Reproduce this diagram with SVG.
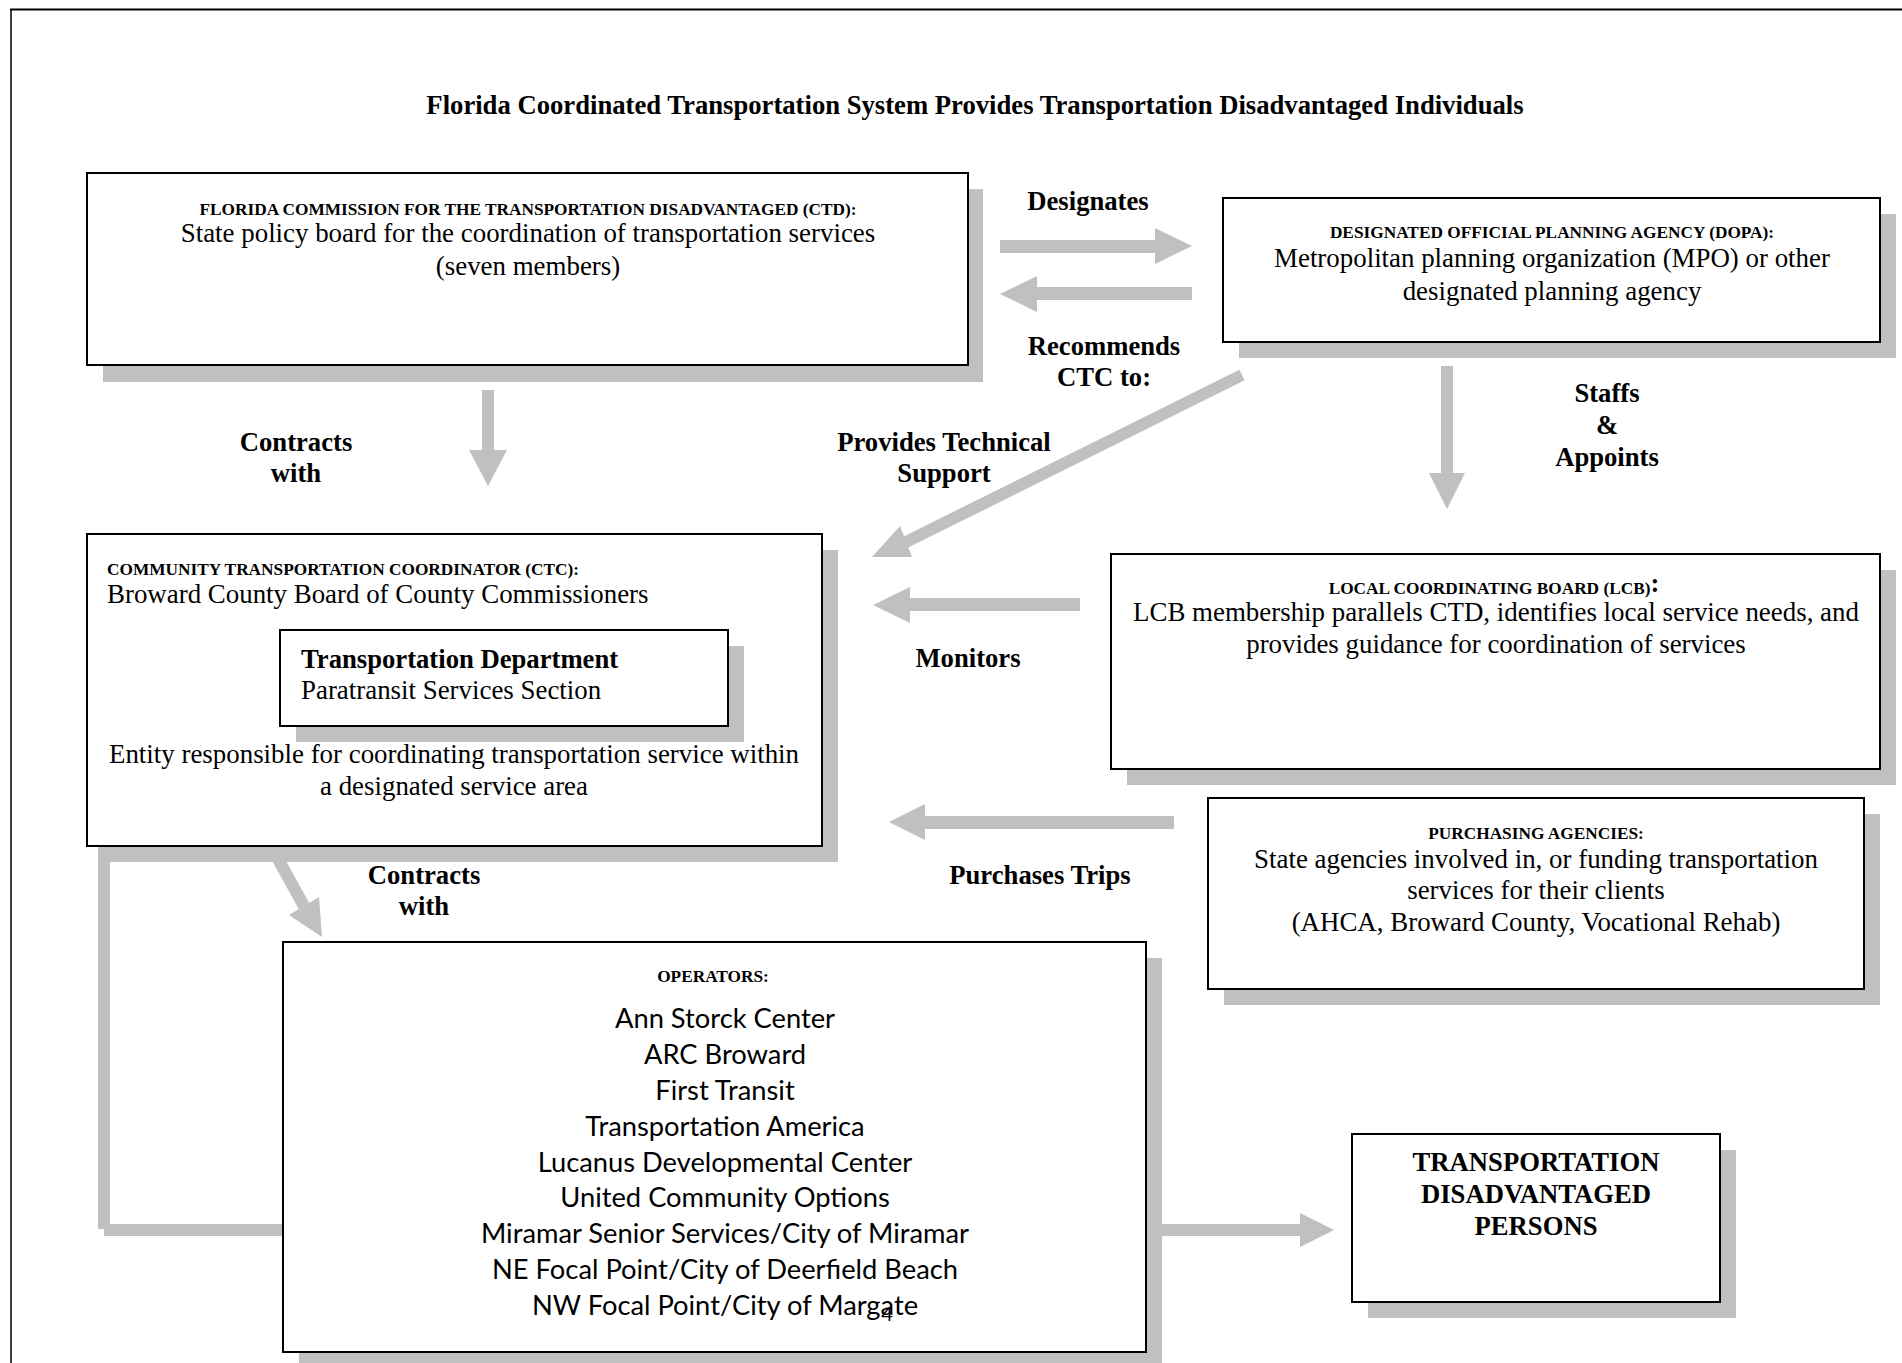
<svg xmlns="http://www.w3.org/2000/svg" width="1902" height="1363" viewBox="0 0 1902 1363">
<style>
  .box { fill: #ffffff; stroke: #000000; stroke-width: 2; }
  .shadow { fill: #c0c0c0; }
  .conn { fill: #c0c0c0; stroke: none; }
  .connline { stroke: #c0c0c0; stroke-width: 12; fill: none; }
  .serif { font-family: "Liberation Serif", "Times New Roman", serif; fill: #000000; }
  .big { font-size: 26.9px; }
  .lbl { font-size: 26.67px; font-weight: bold; }
  .hdr { font-size: 17.3px; font-weight: bold; }
  .bold { font-weight: bold; }
  .sans { font-family: Lato, "Open Sans", sans-serif; font-size: 27.3px; fill: #000000; }
  .mid { text-anchor: middle; }
</style>
<rect x="0" y="0" width="1902" height="1363" fill="#ffffff"/>
<g id="frame">
  <line x1="10" y1="9.5" x2="1902" y2="9.5" stroke="#000" stroke-width="2"/>
  <line x1="11" y1="9" x2="11" y2="1363" stroke="#000" stroke-width="1.5"/>
</g>
<text id="title" class="serif lbl mid" x="975" y="114">Florida Coordinated Transportation System Provides Transportation Disadvantaged Individuals</text>

<g id="connectors">
  <polygon class="conn" points="1000,240 1155,240 1155,228 1192,246 1155,264 1155,253 1000,253"/>
  <polygon class="conn" points="1192,287 1037,287 1037,276 1000,294 1037,312 1037,300 1192,300"/>
  <polygon class="conn" points="482,390 494,390 494,450 507,450 488,486 469,450 482,450"/>
  <polygon class="conn" points="1441,366 1453,366 1453,473 1465,473 1447,509 1429,473 1441,473"/>
  <line class="connline" x1="1242" y1="375" x2="904" y2="543"/>
  <polygon class="conn" points="872,557 900,526 912,557"/>
  <polygon class="conn" points="1080,598 910,598 910,587 873,605 910,623 910,611 1080,611"/>
  <polygon class="conn" points="1174,816 925,816 925,804 889,822 925,840 925,829 1174,829"/>
  <line class="connline" x1="268" y1="841" x2="304" y2="906"/>
  <polygon class="conn" points="322,937 289,915 319,897"/>
  <rect class="conn" x="98" y="846" width="12" height="383"/>
  <rect class="conn" x="104" y="1224" width="178" height="12"/>
  <polygon class="conn" points="1162,1224 1300,1224 1300,1213 1334,1230 1300,1247 1300,1236 1162,1236"/>
</g>

<g id="ctd">
  <rect class="shadow" x="103" y="189" width="880" height="193"/>
  <rect class="box" x="87" y="173" width="881" height="192"/>
  <text class="serif hdr mid" x="528" y="215">FLORIDA COMMISSION FOR THE TRANSPORTATION DISADVANTAGED (CTD):</text>
  <text class="serif big mid" x="528" y="242">State policy board for the coordination of transportation services</text>
  <text class="serif big mid" x="528" y="275">(seven members)</text>
</g>

<g id="dopa">
  <rect class="shadow" x="1239" y="214" width="657" height="144"/>
  <rect class="box" x="1223" y="198" width="657" height="144"/>
  <text class="serif hdr mid" x="1552" y="238">DESIGNATED OFFICIAL PLANNING AGENCY (DOPA):</text>
  <text class="serif big mid" x="1552" y="267">Metropolitan planning organization (MPO) or other</text>
  <text class="serif big mid" x="1552" y="300">designated planning agency</text>
</g>

<g id="labels">
  <text class="serif lbl mid" x="1088" y="210">Designates</text>
  <text class="serif lbl mid" x="1104" y="355">Recommends</text>
  <text class="serif lbl mid" x="1104" y="386">CTC to:</text>
  <text class="serif lbl mid" x="1607" y="402">Staffs</text>
  <text class="serif lbl mid" x="1607" y="434">&amp;</text>
  <text class="serif lbl mid" x="1607" y="466">Appoints</text>
  <text class="serif lbl mid" x="296" y="451">Contracts</text>
  <text class="serif lbl mid" x="296" y="482">with</text>
  <text class="serif lbl mid" x="944" y="451">Provides Technical</text>
  <text class="serif lbl mid" x="944" y="482">Support</text>
  <text class="serif lbl mid" x="968" y="667">Monitors</text>
  <text class="serif lbl mid" x="1040" y="884">Purchases Trips</text>
  <text class="serif lbl mid" x="424" y="884">Contracts</text>
  <text class="serif lbl mid" x="424" y="915">with</text>
</g>

<g id="ctc">
  <rect class="shadow" x="103" y="550" width="735" height="312"/>
  <rect class="box" x="87" y="534" width="735" height="312"/>
  <text class="serif hdr" x="107" y="575">COMMUNITY TRANSPORTATION COORDINATOR (CTC):</text>
  <text class="serif big" x="107" y="603">Broward County Board of County Commissioners</text>
  <text class="serif big mid" x="454" y="763">Entity responsible for coordinating transportation service within</text>
  <text class="serif big mid" x="454" y="795">a designated service area</text>
</g>

<g id="transportation-department">
  <rect class="shadow" x="296" y="646" width="448" height="96"/>
  <rect class="box" x="280" y="630" width="448" height="96"/>
  <text class="serif lbl" x="301" y="668">Transportation Department</text>
  <text class="serif big" x="301" y="699">Paratransit Services Section</text>
</g>

<g id="lcb">
  <rect class="shadow" x="1127" y="570" width="769" height="215"/>
  <rect class="box" x="1111" y="554" width="769" height="215"/>
  <text class="serif hdr mid" x="1494" y="594">LOCAL COORDINATING BOARD (LCB)<tspan font-size="26.67px" dy="-2">:</tspan></text>
  <text class="serif big mid" x="1496" y="621">LCB membership parallels CTD, identifies local service needs, and</text>
  <text class="serif big mid" x="1496" y="653">provides guidance for coordination of services</text>
</g>

<g id="purchasing">
  <rect class="shadow" x="1224" y="814" width="656" height="191"/>
  <rect class="box" x="1208" y="798" width="656" height="191"/>
  <text class="serif hdr mid" x="1536" y="839">PURCHASING AGENCIES:</text>
  <text class="serif big mid" x="1536" y="868">State agencies involved in, or funding transportation</text>
  <text class="serif big mid" x="1536" y="899">services for their clients</text>
  <text class="serif big mid" x="1536" y="931">(AHCA, Broward County, Vocational Rehab)</text>
</g>

<g id="operators">
  <rect class="shadow" x="299" y="958" width="863" height="420"/>
  <rect class="box" x="283" y="942" width="863" height="410"/>
  <text class="serif hdr mid" x="713" y="982">OPERATORS:</text>
  <text class="sans mid" x="725" y="1028">Ann Storck Center</text>
  <text class="sans mid" x="725" y="1064">ARC Broward</text>
  <text class="sans mid" x="725" y="1100">First Transit</text>
  <text class="sans mid" x="725" y="1136">Transportation America</text>
  <text class="sans mid" x="725" y="1172">Lucanus Developmental Center</text>
  <text class="sans mid" x="725" y="1207">United Community Options</text>
  <text class="sans mid" x="725" y="1243">Miramar Senior Services/City of Miramar</text>
  <text class="sans mid" x="725" y="1279">NE Focal Point/City of Deerfield Beach</text>
  <text class="sans mid" x="725" y="1315">NW Focal Point/City of Margate</text>
  <text class="sans mid" x="887" y="1321" style="font-size:20px">4</text>
</g>

<g id="td-persons">
  <rect class="shadow" x="1368" y="1150" width="368" height="168"/>
  <rect class="box" x="1352" y="1134" width="368" height="168"/>
  <text class="serif lbl mid" x="1536" y="1171">TRANSPORTATION</text>
  <text class="serif lbl mid" x="1536" y="1203">DISADVANTAGED</text>
  <text class="serif lbl mid" x="1536" y="1235">PERSONS</text>
</g>
</svg>
